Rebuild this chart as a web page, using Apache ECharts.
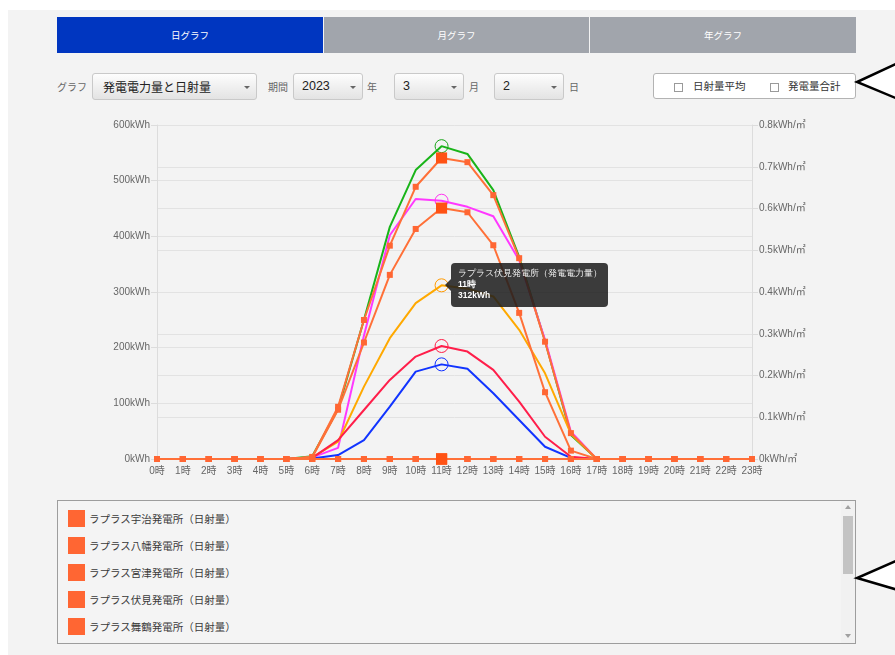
<!DOCTYPE html>
<html><head><meta charset="utf-8">
<script src="https://cdn.jsdelivr.net/npm/echarts@6/dist/echarts.min.js"></script>
<style>
body{margin:0;background:#fff;font-family:"Noto Sans CJK JP","Liberation Sans",sans-serif;overflow:hidden;}
#bg{position:absolute;left:8px;top:10px;width:887px;height:645px;background:#f3f3f3;}
.tab{position:absolute;top:17px;height:36px;line-height:36px;text-align:center;color:#fff;font-size:9.5px;}
.lbl{position:absolute;top:81px;font-size:10px;line-height:12px;color:#666;}
.sel{position:absolute;top:73px;height:27px;box-sizing:border-box;border:1px solid #c9c9c9;border-radius:3px;background:linear-gradient(#fdfdfd,#e3e3e3);font-size:12.5px;color:#222;line-height:25px;padding-left:8px;font-family:"Liberation Sans","Noto Sans CJK JP",sans-serif;}
.sel i{position:absolute;right:6px;top:12px;width:0;height:0;border-left:3px solid transparent;border-right:3px solid transparent;border-top:3px solid #666;}
#chk{position:absolute;left:653px;top:73px;width:203px;height:26px;box-sizing:border-box;border:1px solid #b3b3b3;border-radius:3px;background:#fff;font-size:10.5px;color:#333;}
#chk b{position:absolute;top:9px;width:7px;height:7px;border:1px solid #9a9a9a;background:#fff;}
#chk span{position:absolute;top:5px;line-height:14px;}
#chart{position:absolute;left:57px;top:110px;width:800px;height:380px;}
#legend{position:absolute;left:57px;top:500px;width:799px;height:144px;box-sizing:border-box;border:1px solid #9d9d9d;background:#f4f4f4;overflow:hidden;}
.li{position:absolute;left:10px;height:17px;}
.li b{position:absolute;left:0;top:0;width:17px;height:17px;}
.li span{position:absolute;left:21px;top:1px;white-space:nowrap;font-size:10.5px;line-height:15px;color:#3a3a3a;}
#track{position:absolute;left:841px;top:501px;width:14px;height:142px;background:#f1f1f1;}
#thumb{position:absolute;left:843px;top:516px;width:10px;height:58px;background:#c3c3c3;}
.arr{position:absolute;width:0;height:0;border-left:3px solid transparent;border-right:3px solid transparent;}
.tip{font-family:"Noto Sans CJK JP","Liberation Sans",sans-serif;}
.tip::before{content:'';position:absolute;left:-6px;top:50%;margin-top:-6px;width:0;height:0;border-top:6px solid transparent;border-bottom:6px solid transparent;border-right:6px solid rgba(28,28,28,0.86);}
.tip .t1{font-size:9px;line-height:11px;color:#f2f2f2;white-space:nowrap;}
.tip .t2{font-size:8.5px;line-height:11px;color:#fff;font-weight:bold;}
</style></head>
<body>
<div id="bg"></div>
<div class="tab" style="left:57px;width:266px;background:#0036c0;">日グラフ</div>
<div class="tab" style="left:324px;width:265px;background:#a1a5ac;">月グラフ</div>
<div class="tab" style="left:590px;width:266px;background:#a1a5ac;">年グラフ</div>

<div class="lbl" style="left:57px;">グラフ</div>
<div class="sel" style="left:92px;width:165px;padding-left:10px;font-size:12px;font-family:'Noto Sans CJK JP',sans-serif;">発電電力量と日射量<i style="right:6px"></i></div>
<div class="lbl" style="left:268px;">期間</div>
<div class="sel" style="left:293px;width:70px;">2023<i></i></div>
<div class="lbl" style="left:367px;">年</div>
<div class="sel" style="left:394px;width:70px;">3<i></i></div>
<div class="lbl" style="left:469px;">月</div>
<div class="sel" style="left:494px;width:70px;">2<i></i></div>
<div class="lbl" style="left:569px;">日</div>

<div id="chk"><b style="left:20px"></b><span style="left:39px">日射量平均</span><b style="left:116px"></b><span style="left:134px">発電量合計</span></div>

<div id="chart"></div>

<div id="legend"></div>
<div id="track"></div>
<div id="thumb"></div>
<div class="arr" style="left:845px;top:505px;border-bottom:4px solid #a0a0a0;"></div>
<div class="arr" style="left:845px;top:634px;border-top:4px solid #a0a0a0;"></div>

<svg style="position:absolute;left:0;top:0" width="895" height="655">
<polygon points="898,63 857,82 898,99" fill="#fff" stroke="#000" stroke-width="2.5" stroke-linejoin="miter"/>
<polygon points="898,560 857,578 898,590" fill="#fff" stroke="#000" stroke-width="2.5" stroke-linejoin="miter"/>
</svg>

<script>
// ---- data ----
const HOURS = ['0時','1時','2時','3時','4時','5時','6時','7時','8時','9時','10時','11時','12時','13時','14時','15時','16時','17時','18時','19時','20時','21時','22時','23時'];
const LEFT_TICKS = [0, 600, 100];      // min, max, interval (kWh)
const RIGHT_TICKS = [0, 0.8, 0.1];     // min, max, interval (kWh/㎡)

const STATIONS = ['ラプラス宇治発電所','ラプラス八幡発電所','ラプラス宮津発電所','ラプラス伏見発電所','ラプラス舞鶴発電所'];

// 発電電力量 (kWh)
const POWER_UJI     = [0,0,0,0,0,0,5,90,250,417,519,562,548,483,363,212,43,0,0,0,0,0,0,0];
const POWER_YAWATA  = [0,0,0,0,0,0,3,20,222,402,467,464,453,436,357,214,49,0,0,0,0,0,0,0];
const POWER_MIYAZU  = [0,0,0,0,0,0,1,7,34,94,157,170,162,118,70,22,2,0,0,0,0,0,0,0];
const POWER_FUSHIMI = [0,0,0,0,0,0,3,31,130,217,280,312,306,292,232,154,45,0,0,0,0,0,0,0];
const POWER_MAIZURU = [0,0,0,0,0,0,2,34,88,142,184,203,193,160,103,40,4,0,0,0,0,0,0,0];

// 日射量 (kWh/㎡)
const SUN_UJI     = [0,0,0,0,0,0,0.005,0.125,0.333,0.511,0.652,0.721,0.711,0.632,0.481,0.281,0.062,0,0,0,0,0,0,0];
const SUN_YAWATA  = [0,0,0,0,0,0,0.004,0.118,0.279,0.441,0.551,0.601,0.591,0.512,0.350,0.160,0.020,0,0,0,0,0,0,0];
const SUN_MIYAZU  = [0,0,0,0,0,0,0,0,0,0,0,0,0,0,0,0,0,0,0,0,0,0,0,0];
const SUN_FUSHIMI = [0,0,0,0,0,0,0,0,0,0,0,0,0,0,0,0,0,0,0,0,0,0,0,0];
const SUN_MAIZURU = [0,0,0,0,0,0,0,0,0,0,0,0,0,0,0,0,0,0,0,0,0,0,0,0];

const POWER_DATA = [POWER_UJI, POWER_YAWATA, POWER_MIYAZU, POWER_FUSHIMI, POWER_MAIZURU];
const SUN_DATA = [SUN_UJI, SUN_YAWATA, SUN_MIYAZU, SUN_FUSHIMI, SUN_MAIZURU];
const POWER_COLORS = ['#17a417','#ff33ee','#1030ff','#ff9a00','#ff1c44'];
const SUN_COLOR = '#ff6633';
const TIP_STATION = 3;   // 伏見
const TIP_HOUR = 11;

const SUN_NAMES = STATIONS.map(s => s + '（日射量）');
const POWER_NAMES = STATIONS.map(s => s + '（発電電力量）');

// ---- legend (HTML list with scroll box) ----
const legend = document.getElementById('legend');
const items = SUN_NAMES.map(n => [n, SUN_COLOR]).concat(POWER_NAMES.map((n, i) => [n, POWER_COLORS[i]]));
items.forEach((it, i) => {
  const d = document.createElement('div');
  d.className = 'li';
  d.style.top = (9 + i * 27) + 'px';
  d.innerHTML = '<b style="background:' + it[1] + '"></b><span>' + it[0] + '</span>';
  legend.appendChild(d);
});

// ---- chart ----
const chart = echarts.init(document.getElementById('chart'), null, {renderer: 'canvas'});
const FONT = '"Liberation Sans","Noto Sans CJK JP",sans-serif';

const series = [];
POWER_DATA.forEach((d, i) => {
  series.push({
    name: POWER_NAMES[i], type: 'line', yAxisIndex: 0, data: d,
    showSymbol: false, symbol: 'circle', symbolSize: 13,
    itemStyle: {color: 'rgba(255,255,255,0)', borderColor: POWER_COLORS[i], borderWidth: 1},
    lineStyle: {color: POWER_COLORS[i], width: 2},
    emphasis: {scale: 1, lineStyle: {width: 2}, itemStyle: {color: 'rgba(255,255,255,0)', borderColor: POWER_COLORS[i], borderWidth: 1}},
    z: 2
  });
});
SUN_DATA.forEach((d, i) => {
  series.push({
    name: SUN_NAMES[i], type: 'line', yAxisIndex: 1, data: d,
    showSymbol: true, symbol: 'rect', symbolSize: 6,
    itemStyle: {color: SUN_COLOR},
    lineStyle: {color: SUN_COLOR, width: 2},
    emphasis: {scale: 1.85, lineStyle: {width: 2}, itemStyle: {color: '#ff5214'}},
    z: 3
  });
});

function tipPoint() {
  return chart.convertToPixel({xAxisIndex: 0, yAxisIndex: 0}, [HOURS[TIP_HOUR], POWER_DATA[TIP_STATION][TIP_HOUR]]);
}

chart.setOption({
  animation: false,
  backgroundColor: 'transparent',
  grid: {left: 100, right: 105, top: 15, bottom: 31, containLabel: false, outerBoundsMode: 'none'},
  tooltip: {
    trigger: 'axis',
    className: 'tip',
    transitionDuration: 0,
    backgroundColor: 'rgba(28,28,28,0.86)',
    borderWidth: 0,
    padding: [5, 6, 6, 7],
    extraCssText: 'box-shadow:none;border-radius:4px;',
    axisPointer: {type: 'line', lineStyle: {opacity: 0}},
    position: function (point, params, dom, rect, size) {
      const p = tipPoint();
      return [p[0] + 9, p[1] - size.contentSize[1] / 2];
    },
    formatter: function (params) {
      const p = params.find(q => q.seriesName === POWER_NAMES[TIP_STATION]) || params[0];
      return '<div class="t1">' + p.seriesName + '</div><div class="t2">' + p.name + '</div><div class="t2">' + p.value + 'kWh</div>';
    }
  },
  xAxis: {
    type: 'category', data: HOURS, boundaryGap: false,
    axisLine: {lineStyle: {color: '#cccccc'}},
    axisTick: {show: false},
    axisLabel: {color: '#666', fontSize: 10, fontFamily: FONT, margin: 7, interval: 0},
    splitLine: {show: false}
  },
  yAxis: [{
    type: 'value', min: LEFT_TICKS[0], max: LEFT_TICKS[1], interval: LEFT_TICKS[2],
    axisLine: {show: true, lineStyle: {color: '#dcdcdc'}},
    axisTick: {show: true, length: 6, lineStyle: {color: '#dcdcdc'}},
    axisLabel: {color: '#666', fontSize: 10, fontFamily: FONT, margin: 7, formatter: v => v + 'kWh'},
    splitLine: {show: true, lineStyle: {color: '#e2e2e2'}}
  }, {
    type: 'value', min: RIGHT_TICKS[0], max: RIGHT_TICKS[1], interval: RIGHT_TICKS[2],
    axisLine: {show: true, lineStyle: {color: '#dcdcdc'}},
    axisTick: {show: true, length: 6, lineStyle: {color: '#dcdcdc'}},
    axisLabel: {color: '#666', fontSize: 10, fontFamily: FONT, margin: 7,
      formatter: v => (Math.round(v * 10) / 10) + 'kWh/㎡'},
    splitLine: {show: true, lineStyle: {color: '#e2e2e2'}}
  }],
  series: series
});

const tp = tipPoint();
chart.dispatchAction({type: 'showTip', x: tp[0], y: tp[1]});
</script>
</body></html>
